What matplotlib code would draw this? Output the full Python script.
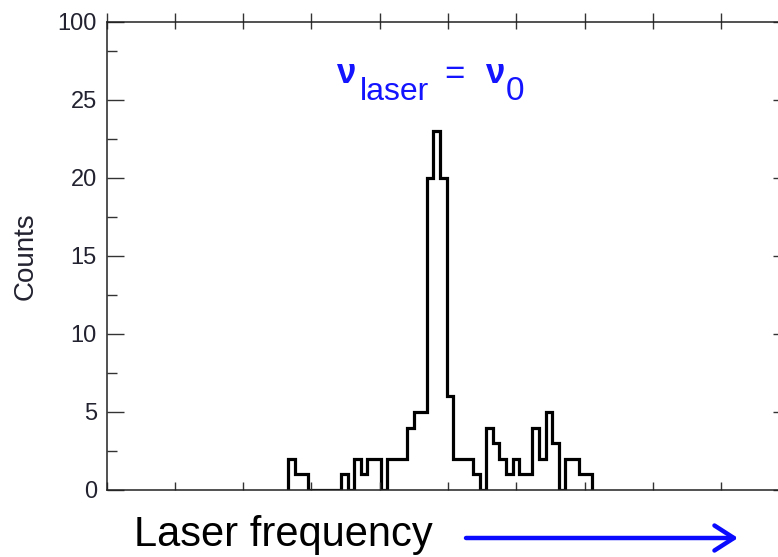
import numpy as np
import matplotlib
matplotlib.use('Agg')
from matplotlib import pyplot as plt
from matplotlib.ticker import FixedLocator, MultipleLocator

plt.rcParams['font.family'] = ['Liberation Sans', 'DejaVu Sans']

# histogram of counts vs laser frequency (arbitrary frequency units)
counts = [2, 1, 1, 0, 0, 0, 0, 0, 1, 0,
          2, 1, 2, 2, 0, 2, 2, 2, 4, 5,
          5, 20, 23, 20, 6, 2, 2, 2, 1, 0,
          4, 3, 2, 1, 2, 1, 1, 4, 2, 5,
          3, 0, 2, 2, 1, 1]
first_edge = 26.62
bin_width = 0.966
edges = first_edge + bin_width * np.arange(len(counts) + 1)

y_ticks = [0, 5, 10, 15, 20, 25, 30]
y_tick_labels = ['0', '5', '10', '15', '20', '25', '100']
y_minor = [2.5, 7.5, 12.5, 17.5, 22.5, 28.1]

W, H = 778, 557
fig = plt.figure(figsize=(W / 100, H / 100), dpi=100)
# right spine sits just past the edge of the canvas
ax = fig.add_axes([106.5 / W, 1 - 490 / H, 683 / W, 468.5 / H])

ax.stairs(counts, edges, baseline=0, color='black', lw=2.3)

ax.set_xlim(0, 100)
ax.set_ylim(0, 30)
ax.xaxis.set_major_locator(MultipleLocator(10))
ax.yaxis.set_major_locator(FixedLocator(y_ticks))
ax.yaxis.set_minor_locator(FixedLocator(y_minor))
ax.set_yticklabels(y_tick_labels)
ax.set_xticklabels([])

for s in ax.spines.values():
    s.set_linewidth(1.1)
    s.set_color('#222222')

ax.tick_params(axis='x', which='major', bottom=True, top=False, direction='in',
               length=6, width=1.0, color='#333333')
ax.tick_params(axis='y', which='major', left=True, right=True, direction='in',
               length=12.5, width=1.0, color='#333333', labelsize=17,
               labelcolor='#222230', pad=7)
ax.tick_params(axis='y', which='minor', left=True, right=True, direction='in',
               length=7, width=1.0, color='#333333')

# ticks crossing the top spine
top = ax.secondary_xaxis('top')
top.xaxis.set_major_locator(MultipleLocator(10))
top.tick_params(direction='inout', length=11.5, width=1.0, color='#333333',
                labeltop=False)
top.spines['top'].set_visible(False)

ax.set_ylabel('Counts', fontsize=20, color='#222230')
ax.yaxis.set_label_coords(-0.1, 0.5)

# nu_laser = nu_0 annotation in blue
blue = '#1414ff'
fig.text(337 / W, 1 - 83 / H, 'ν', color=blue, fontsize=25, fontweight='bold',
         va='baseline')
fig.text(360 / W, 1 - 100 / H, 'laser', color=blue, fontsize=23,
         va='baseline')
fig.text(444 / W, 1 - 84 / H, '=', color=blue, fontsize=25, va='baseline')
fig.text(486 / W, 1 - 83 / H, 'ν', color=blue, fontsize=25, fontweight='bold',
         va='baseline')
fig.text(506 / W, 1 - 100 / H, '0', color=blue, fontsize=24, va='baseline')

fig.text(134 / W, 1 - 546 / H, 'Laser frequency', color='black', fontsize=30,
         va='baseline')
ax.annotate('', xy=(738, H - 538), xytext=(466, H - 538),
            xycoords='figure pixels', textcoords='figure pixels',
            arrowprops=dict(arrowstyle='->,head_length=0.7,head_width=0.45',
                            color='#0a0aff', lw=3.2, mutation_scale=20,
                            shrinkA=0, shrinkB=0))

fig.savefig('out.png', dpi=100)
